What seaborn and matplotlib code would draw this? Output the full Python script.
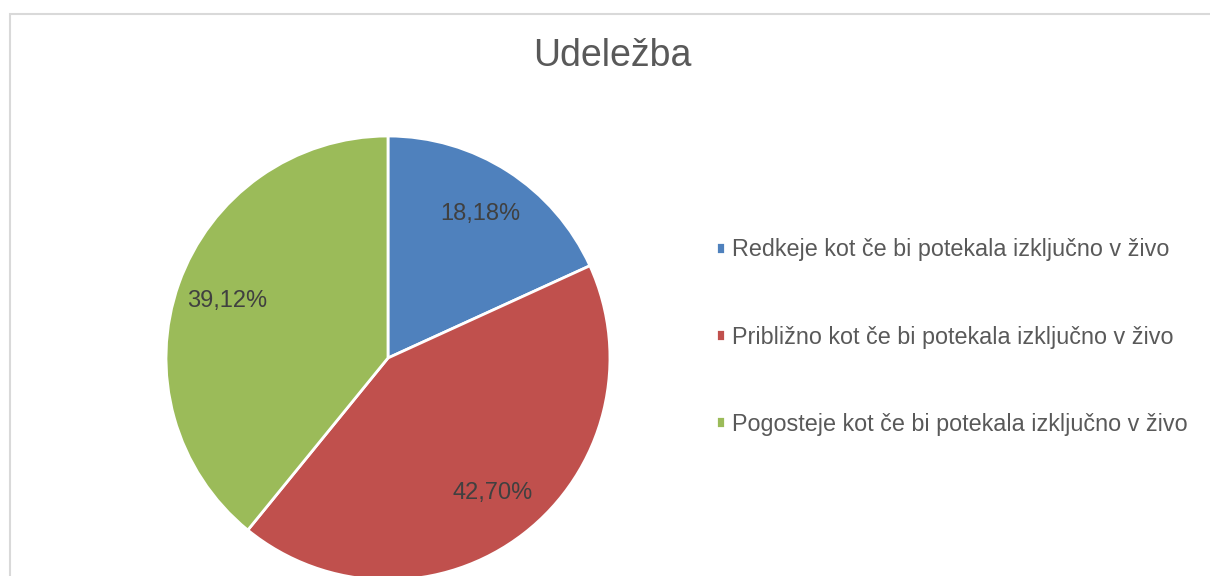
import seaborn as sns
import matplotlib.pyplot as plt
from matplotlib.patches import Rectangle

# Data
labels = [
    "Redkeje kot če bi potekala izključno v živo",
    "Približno kot če bi potekala izključno v živo",
    "Pogosteje kot če bi potekala izključno v živo",
]
shares = [18.18, 42.70, 39.12]
colors = ["#4F81BD", "#C0504D", "#9BBB59"]
title = "Udeležba"

sns.set_theme(style="white")
plt.rcParams['font.family'] = ['Liberation Sans', 'DejaVu Sans']

fig = plt.figure(figsize=(12.1, 5.76), dpi=100)

# chart area border (the picture is a crop, only top and left edges show)
fig.patches.append(Rectangle((9.5 / 1210, -0.2), 1.2, 1.2 - 13.5 / 576,
                             transform=fig.transFigure, fill=False,
                             edgecolor="#D9D9D9", linewidth=1.5))

ax = fig.add_axes([0.1372, -0.0069, 0.3669, 0.7708])
wedges, texts, autotexts = ax.pie(
    shares, colors=colors, startangle=90, counterclock=False,
    autopct=lambda p: f"{p:.2f}%".replace(".", ","), pctdistance=0.77,
    wedgeprops=dict(edgecolor="white", linewidth=2),
    textprops=dict(color="#404040", fontsize=17),
)
ax.set_xlim(-1, 1)
ax.set_ylim(-1, 1)
ax.set_aspect("equal")

fig.text(612 / 1210, 1 - 56 / 576, title, ha="center", va="center",
         fontsize=27, color="#595959")

fig.legend(wedges, labels, loc="center left",
           bbox_to_anchor=(695 / 1210, 1 - 337 / 576),
           frameon=False, fontsize=16.8, labelcolor="#595959",
           handlelength=0.4, handleheight=0.4, handletextpad=0.3,
           labelspacing=2.75)

fig.savefig("out.png", dpi=100)
